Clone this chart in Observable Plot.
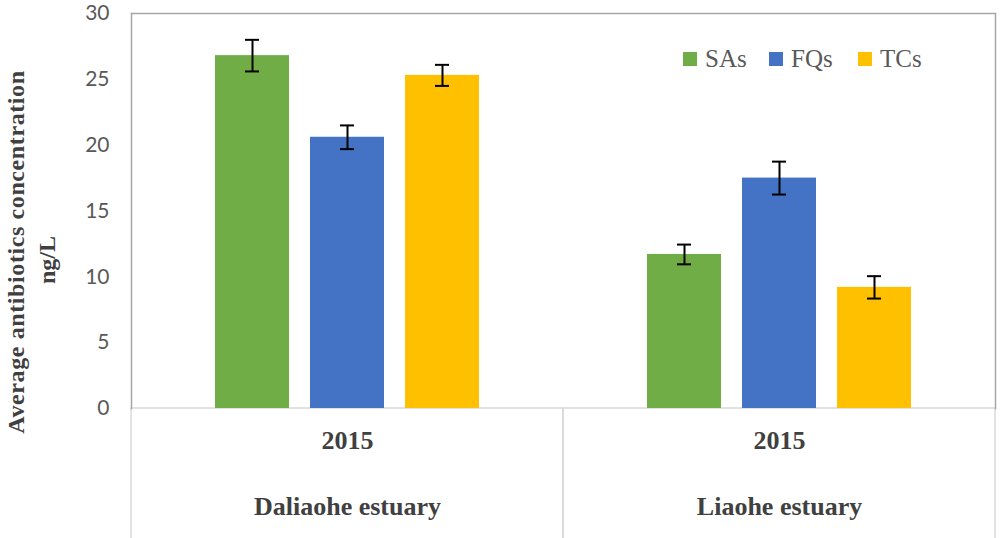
<!DOCTYPE html>
<html><head><meta charset="utf-8">
<script src="https://cdn.jsdelivr.net/npm/d3@7"></script>
<script src="https://cdn.jsdelivr.net/npm/@observablehq/plot@0.6"></script>
<style>
body{margin:0;background:#fff;}
#wrap{position:relative;width:1000px;height:538px;overflow:hidden;background:#fff;}
.ytitle{position:absolute;font-family:"Liberation Serif",serif;font-weight:bold;color:#404040;white-space:nowrap;font-size:24px;transform:translate(-50%,-50%) rotate(-90deg);}
.item{position:absolute;top:44px;font-family:"Liberation Serif",serif;font-size:25px;color:#595959;display:flex;align-items:center;line-height:30px;}
.sw{display:inline-block;width:14px;height:14px;margin-right:8px;}
</style></head>
<body><div id="wrap"></div>
<script>
const estuaries = ["Daliaohe estuary", "Liaohe estuary"];
const years = ["2015", "2015"];
const classes = ["SAs", "FQs", "TCs"];
const colors = ["#70ad47", "#4472c4", "#ffc000"];
const daliaoheValues = [26.8, 20.6, 25.3];
const daliaoheErrors = [1.2, 0.9, 0.8];
const liaoheValues = [11.7, 17.5, 9.2];
const liaoheErrors = [0.75, 1.25, 0.85];
const yTicks = [0, 5, 10, 15, 20, 25, 30];
const yTitle = "Average antibiotics concentration";
const yUnit = "ng/L";

const values = [daliaoheValues, liaoheValues];
const errors = [daliaoheErrors, liaoheErrors];
const rows = [];
estuaries.forEach((e, i) => classes.forEach((c, j) => rows.push({estuary: e, cls: c, value: values[i][j], err: errors[i][j]})));
const labels = estuaries.map((e, i) => ({estuary: e, year: years[i]}));

const chart = Plot.plot({
  width: 1000, height: 538,
  marginLeft: 130, marginRight: 5, marginTop: 13, marginBottom: 130,
  fx: {domain: estuaries, padding: 0, axis: null},
  x: {domain: classes, paddingInner: 0.219, paddingOuter: 0.862, axis: null},
  y: {domain: [0, 30], ticks: yTicks, tickSize: 0, tickPadding: 22, label: null},
  color: {domain: classes, range: colors},
  style: {fontFamily: "Lato, sans-serif", fontSize: "21px", color: "#595959", background: "#fff"},
  marks: [
    Plot.rect(labels, {fx: "estuary", y1: 0, y2: -10.5, stroke: "#d9d9d9", strokeWidth: 1.5, fill: "none"}),
    Plot.ruleY([30], {stroke: "#a6a6a6", strokeWidth: 1.5}),
    Plot.frame({anchor: "left", fx: [estuaries[0]], stroke: "#a6a6a6", strokeWidth: 1.5}),
    Plot.frame({anchor: "right", fx: [estuaries[1]], stroke: "#a6a6a6", strokeWidth: 1.5}),
    Plot.barY(rows, {fx: "estuary", x: "cls", y: "value", fill: "cls"}),
    Plot.ruleX(rows, {fx: "estuary", x: "cls", y1: d => d.value - d.err, y2: d => d.value + d.err, stroke: "#000", strokeWidth: 2}),
    Plot.tickY(rows, {fx: "estuary", x: "cls", y: d => d.value + d.err, insetLeft: 30, insetRight: 30, stroke: "#000", strokeWidth: 2}),
    Plot.tickY(rows, {fx: "estuary", x: "cls", y: d => d.value - d.err, insetLeft: 30, insetRight: 30, stroke: "#000", strokeWidth: 2}),
    Plot.text(labels, {fx: "estuary", text: "year", frameAnchor: "bottom", dy: 40, fontFamily: "Liberation Serif, serif", fontWeight: "bold", fontSize: 26, fill: "#404040"}),
    Plot.text(labels, {fx: "estuary", text: "estuary", frameAnchor: "bottom", dy: 106, fontFamily: "Liberation Serif, serif", fontWeight: "bold", fontSize: 26, fill: "#404040"})
  ]
});
const wrap = document.getElementById("wrap");
wrap.appendChild(chart);

const t1 = document.createElement("div");
t1.className = "ytitle"; t1.textContent = yTitle; t1.style.letterSpacing = "0.6px";
t1.style.left = "16px"; t1.style.top = "252px";
wrap.appendChild(t1);
const t2 = document.createElement("div");
t2.className = "ytitle"; t2.textContent = yUnit;
t2.style.left = "47px"; t2.style.top = "260px";
wrap.appendChild(t2);

const legendLeft = [683, 769, 858];
classes.forEach((c, i) => {
  const it = document.createElement("div");
  it.className = "item";
  it.style.left = legendLeft[i] + "px";
  const sw = document.createElement("span");
  sw.className = "sw"; sw.style.background = colors[i];
  it.appendChild(sw);
  it.appendChild(document.createTextNode(c));
  wrap.appendChild(it);
});
</script></body></html>
